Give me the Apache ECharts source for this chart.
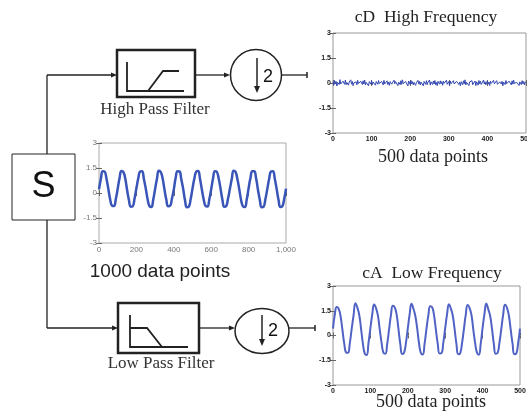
<!DOCTYPE html>
<html><head><meta charset="utf-8">
<script src="https://cdn.jsdelivr.net/npm/echarts@6/dist/echarts.min.js"></script>
<style>html,body{margin:0;padding:0;background:#fff}#c{width:527px;height:419px}</style>
</head><body><div id="c"></div>
<script>
// ---- data ----
var yTicks = [-3, -1.5, 0, 1.5, 3];
var xTicks500 = [0, 100, 200, 300, 400, 500];
var xTicks1000 = [0, 200, 400, 600, 800, 1000];

// original signal, 1000 samples, read every 10 samples
var signalX = [0,10,20,30,40,50,60,70,80,90,100,110,120,130,140,150,160,170,180,190,200,210,220,230,240,250,260,270,280,290,300,310,320,330,340,350,360,370,380,390,400,410,420,430,440,450,460,470,480,490,500,510,520,530,540,550,560,570,580,590,600,610,620,630,640,650,660,670,680,690,700,710,720,730,740,750,760,770,780,790,800,810,820,830,840,850,860,870,880,890,900,910,920,930,940,950,960,970,980,990,1000];
var signalY = [
0.22,0.86,1.30,1.28,0.85,0.24,-0.40,-0.76,-0.78,-0.36,
0.26,0.90,1.32,1.27,0.88,0.20,-0.42,-0.82,-0.80,-0.34,
0.28,0.88,1.29,1.31,0.84,0.27,-0.38,-0.79,-0.84,-0.40,
0.24,0.85,1.33,1.26,0.89,0.22,-0.41,-0.80,-0.77,-0.35,
0.21,0.91,1.30,1.29,0.83,0.25,-0.44,-0.85,-0.82,-0.38,
0.27,0.87,1.28,1.32,0.86,0.21,-0.39,-0.78,-0.81,-0.37,
0.23,0.89,1.31,1.27,0.87,0.26,-0.40,-0.83,-0.79,-0.33,
0.25,0.84,1.34,1.28,0.84,0.23,-0.43,-0.80,-0.84,-0.39,
0.29,0.90,1.30,1.30,0.88,0.20,-0.42,-0.86,-0.83,-0.36,
0.24,0.86,1.29,1.31,0.85,0.24,-0.41,-0.84,-0.80,-0.37,
0.26];

// cA approximation, 500 samples, read every 5 samples
var cAX = [0,5,10,15,20,25,30,35,40,45,50,55,60,65,70,75,80,85,90,95,100,105,110,115,120,125,130,135,140,145,150,155,160,165,170,175,180,185,190,195,200,205,210,215,220,225,230,235,240,245,250,255,260,265,270,275,280,285,290,295,300,305,310,315,320,325,330,335,340,345,350,355,360,365,370,375,380,385,390,395,400,405,410,415,420,425,430,435,440,445,450,455,460,465,470,475,480,485,490,495,500];
var cAY = [
0.42,1.30,1.72,1.62,1.20,0.38,-0.48,-1.02,-1.05,-0.46,
0.40,1.22,1.95,1.70,1.26,0.42,-0.50,-1.10,-1.18,-0.44,
0.45,1.28,1.88,1.66,1.22,0.36,-0.46,-1.05,-1.10,-0.50,
0.38,1.25,1.80,1.70,1.28,0.40,-0.52,-1.12,-1.04,-0.45,
0.43,1.30,1.92,1.62,1.20,0.44,-0.47,-1.06,-1.15,-0.48,
0.41,1.24,1.78,1.72,1.25,0.37,-0.49,-1.09,-1.07,-0.43,
0.44,1.29,1.90,1.64,1.23,0.41,-0.51,-1.14,-1.08,-0.47,
0.39,1.26,1.85,1.68,1.27,0.39,-0.45,-1.04,-1.16,-0.49,
0.46,1.31,1.94,1.60,1.21,0.43,-0.50,-1.11,-1.06,-0.44,
0.40,1.27,1.86,1.69,1.24,0.38,-0.48,-1.13,-1.09,-0.46,
0.42];

// cD detail, 500 samples (small noise around zero)
var cDY = [0.08,-0.12,0.15,-0.05,0.10,-0.18,0.04,0.12,-0.09,0.20,-0.06,0.02,-0.15,0.11,0.05,-0.08,0.17,-0.10,0.03,0.14,
-0.13,0.06,-0.02,0.19,-0.07,0.09,-0.16,0.01,0.12,-0.04,0.07,-0.11,0.16,-0.03,0.05,-0.14,0.10,0.02,-0.09,0.13,
-0.06,0.18,-0.12,0.04,-0.01,0.11,-0.17,0.08,0.03,-0.07,0.14,-0.10,0.06,-0.05,0.12,-0.13,0.09,0.01,-0.08,0.15,
-0.04,0.07,-0.15,0.10,0.02,-0.11,0.16,-0.06,0.04,-0.02,0.13,-0.09,0.05,-0.14,0.08,0.11,-0.07,0.03,-0.12,0.17,
-0.05,0.09,-0.03,0.12,-0.16,0.06,0.01,-0.10,0.14,-0.08,0.19,-0.04,0.07,-0.13,0.10,-0.02,0.05,-0.18,0.12,0.03,
-0.09,0.15,-0.06,0.08,-0.11,0.04,0.13,-0.14,0.02,-0.07,0.16,-0.05,0.10,-0.12,0.06,-0.03,0.11,-0.17,0.09,0.01,
-0.08,0.14,-0.10,0.05,-0.04,0.18,-0.13,0.07,0.02,-0.09,0.12,-0.06,0.15,-0.11,0.03,-0.16,0.10,0.04,-0.07,0.13,
-0.05,0.08,-0.14,0.11,-0.02,0.06,-0.12,0.17,-0.08,0.01,0.09,-0.15,0.12,-0.04,0.07,-0.10,0.14,-0.06,0.03,-0.13,
0.10,-0.01,0.16,-0.09,0.05,-0.17,0.08,0.02,-0.11,0.13,-0.05,0.19,-0.12,0.04,-0.07,0.11,-0.15,0.06,0.09,-0.03,
0.14,-0.10,0.02,-0.08,0.12,-0.16,0.07,0.05,-0.13,0.15,-0.04,0.10,-0.09,0.03,-0.14,0.18,-0.06,0.08,-0.11,0.01,
0.13,-0.07,0.06,-0.15,0.11,-0.02,0.09,-0.12,0.16,-0.05,0.04,-0.10,0.14,-0.08,0.02,-0.13,0.07,0.12,-0.06,0.10,
-0.17,0.05,0.03,-0.09,0.15,-0.04,0.08,-0.14,0.11,-0.01,0.06,-0.11,0.13,-0.07,0.17,-0.03,0.09,-0.12,0.04,-0.08,
0.12,-0.15,0.07,0.02,-0.10,0.14,-0.05,0.09,-0.12,0.06,0.03];

// ---- build ----
function pairs(xs, ys){ return ys.map(function(v,i){ return [xs[i], v]; }); }
var cDData = cDY.map(function(v,i){ return [i*500/(cDY.length-1), v]; });

var chart = echarts.init(document.getElementById('c'), null, {renderer:'canvas'});

var smallBold = {fontSize:7, fontWeight:'bold', color:'#222', fontFamily:'Liberation Sans'};
var smallGray = {fontSize:8, color:'#777', fontFamily:'Liberation Sans'};

function xA(g, max, itv, lbl){
  return [
    {gridIndex:g, type:'value', min:0, max:max, interval:itv, position:'bottom',
     axisLine:{show:false}, splitLine:{show:false},
     axisTick:{inside:true, length:3, lineStyle:{color:'#666'}},
     axisLabel:Object.assign({margin:3, showMaxLabel:true, showMinLabel:true, hideOverlap:false}, lbl)},
    {gridIndex:g, type:'value', min:0, max:max, interval:itv, position:'top',
     axisLine:{show:false}, splitLine:{show:false},
     axisTick:{inside:true, length:3, lineStyle:{color:'#666'}}, axisLabel:{show:false}}
  ];
}
function yA(g, lbl){
  return [
    {gridIndex:g, type:'value', min:-3, max:3, interval:1.5, position:'left',
     axisLine:{show:false}, splitLine:{show:false},
     axisTick:{inside:true, length:3, lineStyle:{color:'#666'}},
     axisLabel:Object.assign({margin:2}, lbl)},
    {gridIndex:g, type:'value', min:-3, max:3, interval:1.5, position:'right',
     axisLine:{show:false}, splitLine:{show:false},
     axisTick:{inside:true, length:3, lineStyle:{color:'#666'}}, axisLabel:{show:false}}
  ];
}

var T = '#222';
var LW = 1.3;
function ln(x1,y1,x2,y2,w){ return {type:'line', shape:{x1:x1,y1:y1,x2:x2,y2:y2}, style:{stroke:T, lineWidth:w||LW}, silent:true}; }
function arrowR(x,y){ return {type:'polygon', shape:{points:[[x,y],[x-6,y-2.5],[x-6,y+2.5]]}, style:{fill:T}, silent:true}; }
function arrowD(x,y){ return {type:'polygon', shape:{points:[[x,y],[x-3,y-7],[x+3,y-7]]}, style:{fill:T}, silent:true}; }
function txt(s,x,y,font,col){ return {type:'text', silent:true, style:{text:s, x:x, y:y, font:font, fill:col||'#222', align:'center', verticalAlign:'middle', textAlign:'center', textVerticalAlign:'middle'}}; }

var graphics = [
  // trunk
  ln(47,75,47,154), ln(47,220,47,328),
  {type:'rect', shape:{x:12,y:154,width:63,height:66}, style:{fill:'#fff', stroke:T, lineWidth:1}, silent:true},
  txt('S',43.5,187,'36px "Liberation Sans"','#111'),
  // high pass branch
  ln(47,75,112,75), arrowR(117,75),
  {type:'rect', shape:{x:117,y:50,width:78,height:47}, style:{fill:'#fff', stroke:T, lineWidth:2.5}, silent:true},
  {type:'polyline', shape:{points:[[127,62],[127,91],[184,91]]}, style:{stroke:T, lineWidth:1.8, fill:null}, silent:true},
  {type:'polyline', shape:{points:[[148,91],[163,71],[179,71]]}, style:{stroke:T, lineWidth:1.8, fill:null}, silent:true},
  txt('High Pass Filter',155,110,'17px "Liberation Serif"','#333'),
  ln(195,75,225,75), arrowR(230,75),
  {type:'circle', shape:{cx:256,cy:75,r:25.5}, style:{fill:'#fff', stroke:T, lineWidth:1.5}, silent:true},
  ln(257,58,257,86,1.5), arrowD(257,93),
  txt('2',268,77,'18px "Liberation Sans"','#111'),
  ln(282,75,307,75), ln(307,72,307,78,1.5),
  // low pass branch
  ln(47,328,113,328), arrowR(118,328),
  {type:'rect', shape:{x:118,y:303,width:81,height:50}, style:{fill:'#fff', stroke:T, lineWidth:2.5}, silent:true},
  {type:'polyline', shape:{points:[[130,315],[130,347],[188,347]]}, style:{stroke:T, lineWidth:1.8, fill:null}, silent:true},
  {type:'polyline', shape:{points:[[130,328],[147,328],[162,347]]}, style:{stroke:T, lineWidth:1.8, fill:null}, silent:true},
  txt('Low Pass Filter',161,364,'17px "Liberation Serif"','#333'),
  ln(199,328,230,328), arrowR(235,328),
  {type:'ellipse', shape:{cx:262,cy:331,rx:27,ry:22.5}, style:{fill:'#fff', stroke:T, lineWidth:1.5}, silent:true},
  ln(262,315,262,339,1.5), arrowD(262,346),
  txt('2',273,331,'18px "Liberation Sans"','#111'),
  ln(289,328,315,328), ln(315,325,315,331,1.5),
  // captions
  txt('cD  High Frequency',426,17,'17.5px "Liberation Serif"','#222'),
  txt('500 data points',433,157,'18px "Liberation Serif"','#222'),
  txt('1000 data points',160,272,'19px "Liberation Sans"','#222'),
  txt('cA  Low Frequency',432,273,'17.5px "Liberation Serif"','#222'),
  txt('500 data points',431,402,'18px "Liberation Serif"','#222')
];

var gridBase = {show:true, borderWidth:1, backgroundColor:'#fff', containLabel:false, outerBoundsMode:'none'};
var option = {
  animation:false,
  backgroundColor:'#fff',
  grid:[
    Object.assign({left:333, top:33, width:193, height:100, borderColor:'#999'}, gridBase),
    Object.assign({left:99, top:143, width:187, height:100, borderColor:'#aaa'}, gridBase),
    Object.assign({left:333, top:286, width:187, height:99, borderColor:'#999'}, gridBase)
  ],
  xAxis: [].concat(xA(0,500,100,smallBold), xA(1,1000,200,smallGray), xA(2,500,100,smallBold)),
  yAxis: [].concat(yA(0,smallBold), yA(1,smallGray), yA(2,smallBold)),
  graphic: graphics,
  series:[
    {type:'line', xAxisIndex:0, yAxisIndex:0, data:cDData, showSymbol:false, lineStyle:{color:'#3246b0', width:1}, silent:true},
    {type:'line', xAxisIndex:2, yAxisIndex:2, data:pairs(signalX, signalY), smooth:true, showSymbol:false, lineStyle:{color:'#3a55b8', width:2.5}, silent:true},
    {type:'line', xAxisIndex:4, yAxisIndex:4, data:pairs(cAX, cAY), smooth:true, showSymbol:false, lineStyle:{color:'#5063c4', width:2}, silent:true}
  ]
};
chart.setOption(option);
</script></body></html>
